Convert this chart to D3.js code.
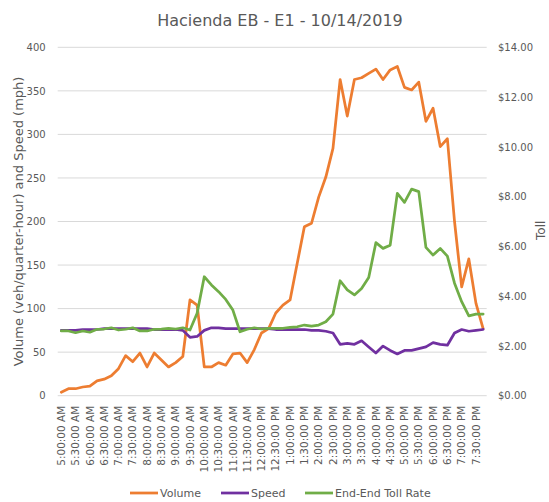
<!DOCTYPE html>
<html>
<head>
<meta charset="utf-8">
<script src="https://cdn.jsdelivr.net/npm/d3@7"></script>
<style>
  body { margin: 0; background: #fff; }
  text { font-family: "DejaVu Sans", sans-serif; fill: #595959; }
</style>
</head>
<body>
<div class="chart"></div>
<script>
let title = "Hacienda EB - E1 - 10/14/2019";

let times = ["5:00:00 AM","5:15:00 AM","5:30:00 AM","5:45:00 AM","6:00:00 AM","6:15:00 AM","6:30:00 AM","6:45:00 AM",
  "7:00:00 AM","7:15:00 AM","7:30:00 AM","7:45:00 AM","8:00:00 AM","8:15:00 AM","8:30:00 AM","8:45:00 AM",
  "9:00:00 AM","9:15:00 AM","9:30:00 AM","9:45:00 AM","10:00:00 AM","10:15:00 AM","10:30:00 AM","10:45:00 AM",
  "11:00:00 AM","11:15:00 AM","11:30:00 AM","11:45:00 AM","12:00:00 PM","12:15:00 PM","12:30:00 PM","12:45:00 PM",
  "1:00:00 PM","1:15:00 PM","1:30:00 PM","1:45:00 PM","2:00:00 PM","2:15:00 PM","2:30:00 PM","2:45:00 PM",
  "3:00:00 PM","3:15:00 PM","3:30:00 PM","3:45:00 PM","4:00:00 PM","4:15:00 PM","4:30:00 PM","4:45:00 PM",
  "5:00:00 PM","5:15:00 PM","5:30:00 PM","5:45:00 PM","6:00:00 PM","6:15:00 PM","6:30:00 PM","6:45:00 PM",
  "7:00:00 PM","7:15:00 PM","7:30:00 PM","7:45:00 PM"];

// shown every half hour
let tickLabels = ["5:00:00 AM","5:30:00 AM","6:00:00 AM","6:30:00 AM","7:00:00 AM","7:30:00 AM","8:00:00 AM","8:30:00 AM",
  "9:00:00 AM","9:30:00 AM","10:00:00 AM","10:30:00 AM","11:00:00 AM","11:30:00 AM","12:00:00 PM","12:30:00 PM",
  "1:00:00 PM","1:30:00 PM","2:00:00 PM","2:30:00 PM","3:00:00 PM","3:30:00 PM","4:00:00 PM","4:30:00 PM",
  "5:00:00 PM","5:30:00 PM","6:00:00 PM","6:30:00 PM","7:00:00 PM","7:30:00 PM"];

let volume = [4, 8, 8, 10, 11, 17, 19, 23, 31, 46, 39, 49, 33, 49, 41, 33, 38, 45, 110, 104,
  33, 33, 38, 35, 48, 49, 38, 53, 72, 77, 95, 104, 110, 152, 194, 198, 228, 251, 284, 363,
  321, 363, 365, 370, 375, 363, 374, 378, 354, 351, 360, 315, 330, 286, 295, 200, 125, 157, 106, 77];

let speed = [75, 75, 75, 76, 76, 76, 77, 77, 77, 77, 77, 77, 77, 76, 76, 76, 76, 75, 67, 68,
  75, 78, 78, 77, 77, 77, 77, 77, 77, 77, 76, 76, 76, 76, 76, 75, 75, 74, 72, 59,
  60, 59, 63, 56, 49, 57, 52, 48, 52, 52, 54, 56, 61, 59, 58, 72, 76, 74, 75, 76];

let toll = [2.60, 2.60, 2.53, 2.60, 2.55, 2.67, 2.68, 2.73, 2.64, 2.67, 2.73, 2.60, 2.60, 2.67, 2.68, 2.71, 2.68, 2.73, 2.64, 3.31,
  4.78, 4.45, 4.18, 3.87, 3.44, 2.57, 2.67, 2.73, 2.68, 2.71, 2.71, 2.71, 2.75, 2.77, 2.84, 2.80, 2.84, 2.97, 3.28, 4.62,
  4.25, 4.05, 4.31, 4.75, 6.15, 5.92, 6.05, 8.13, 7.77, 8.30, 8.20, 5.96, 5.65, 5.92, 5.61, 4.52, 3.78, 3.21, 3.28, 3.28];

let leftTicks = [0, 50, 100, 150, 200, 250, 300, 350, 400];
let rightTicks = [0, 2, 4, 6, 8, 10, 12, 14];

let colors = {volume: "#ED7D31", speed: "#7030A0", toll: "#70AD47"};

let width = 549, height = 502;
let margin = {top: 47.3, right: 62.3, bottom: 106.3, left: 57.7};

let svg = d3.select(".chart").append("svg")
    .attr("width", width)
    .attr("height", height);

let x = d3.scaleBand()
    .domain(times)
    .range([margin.left, width - margin.right]);

let yL = d3.scaleLinear()
    .domain([0, 400])
    .range([height - margin.bottom, margin.top]);

let yR = d3.scaleLinear()
    .domain([0, 14])
    .range([height - margin.bottom, margin.top]);

let cx = function(d) { return x(d) + x.bandwidth() / 2; };

// grid
svg.append("g")
  .selectAll("line")
  .data(leftTicks)
  .enter().append("line")
    .attr("x1", margin.left)
    .attr("x2", width - margin.right)
    .attr("y1", d => yL(d))
    .attr("y2", d => yL(d))
    .attr("stroke", "#d9d9d9")
    .attr("stroke-width", 1);

// left axis
let gL = svg.append("g")
    .attr("transform", "translate(" + (margin.left - 12) + ",0)")
    .call(d3.axisLeft(yL).tickValues(leftTicks).tickSize(0).tickPadding(0));
gL.select(".domain").remove();
gL.selectAll("text").style("font-size", "10px").attr("fill", "#595959");

// right axis
let gR = svg.append("g")
    .attr("transform", "translate(" + (width - margin.right + 11.3) + ",0)")
    .call(d3.axisRight(yR).tickValues(rightTicks).tickSize(0).tickPadding(0)
      .tickFormat(d => "$" + d.toFixed(2)));
gR.select(".domain").remove();
gR.selectAll("text").style("font-size", "10px").attr("fill", "#595959");

// x labels
let gX = svg.append("g")
    .attr("transform", "translate(0," + (height - margin.bottom + 10) + ")")
    .call(d3.axisBottom(x).tickValues(tickLabels).tickSize(0).tickPadding(0));
gX.select(".domain").remove();
gX.selectAll("text")
    .style("font-size", "10.5px")
    .attr("fill", "#595959")
    .attr("text-anchor", "end")
    .attr("transform", "rotate(-90)")
    .attr("x", 0)
    .attr("y", 0)
    .attr("dy", "0.35em");

// lines
let lineL = d3.line()
    .x((d, i) => cx(times[i]))
    .y(d => yL(d));

let lineR = d3.line()
    .x((d, i) => cx(times[i]))
    .y(d => yR(d));

let series = [
  {name: "Volume", values: volume, line: lineL, color: colors.volume},
  {name: "Speed", values: speed, line: lineL, color: colors.speed},
  {name: "End-End Toll Rate", values: toll, line: lineR, color: colors.toll}
];

svg.selectAll(".series")
  .data(series)
  .enter().append("path")
    .attr("class", "series")
    .attr("d", d => d.line(d.values))
    .attr("fill", "none")
    .attr("stroke", d => d.color)
    .attr("stroke-width", 2.75)
    .attr("stroke-linejoin", "round")
    .attr("stroke-linecap", "round");

// titles
svg.append("text")
    .attr("x", 280)
    .attr("y", 26)
    .attr("text-anchor", "middle")
    .style("font-size", "16px")
    .text(title);

svg.append("text")
    .attr("transform", "translate(18," + ((margin.top + height - margin.bottom) / 2) + ") rotate(-90)")
    .attr("text-anchor", "middle")
    .attr("dy", "0.35em")
    .style("font-size", "13px")
    .text("Volume (veh/quarter-hour) and Speed (mph)");

svg.append("text")
    .attr("transform", "translate(541,240) rotate(-90)")
    .attr("text-anchor", "start")
    .attr("dy", "0.35em")
    .style("font-size", "12px")
    .text("Toll");

// legend
let legendX = [130, 221, 305];
let legend = svg.append("g").selectAll("g")
  .data(series)
  .enter().append("g")
    .attr("transform", (d, i) => "translate(" + legendX[i] + ",493)");

legend.append("line")
    .attr("x1", 0)
    .attr("x2", 28)
    .attr("stroke", d => d.color)
    .attr("stroke-width", 2.75);

legend.append("text")
    .attr("x", 30)
    .attr("dy", "0.35em")
    .style("font-size", "11px")
    .text(d => d.name);
</script>
</body>
</html>
